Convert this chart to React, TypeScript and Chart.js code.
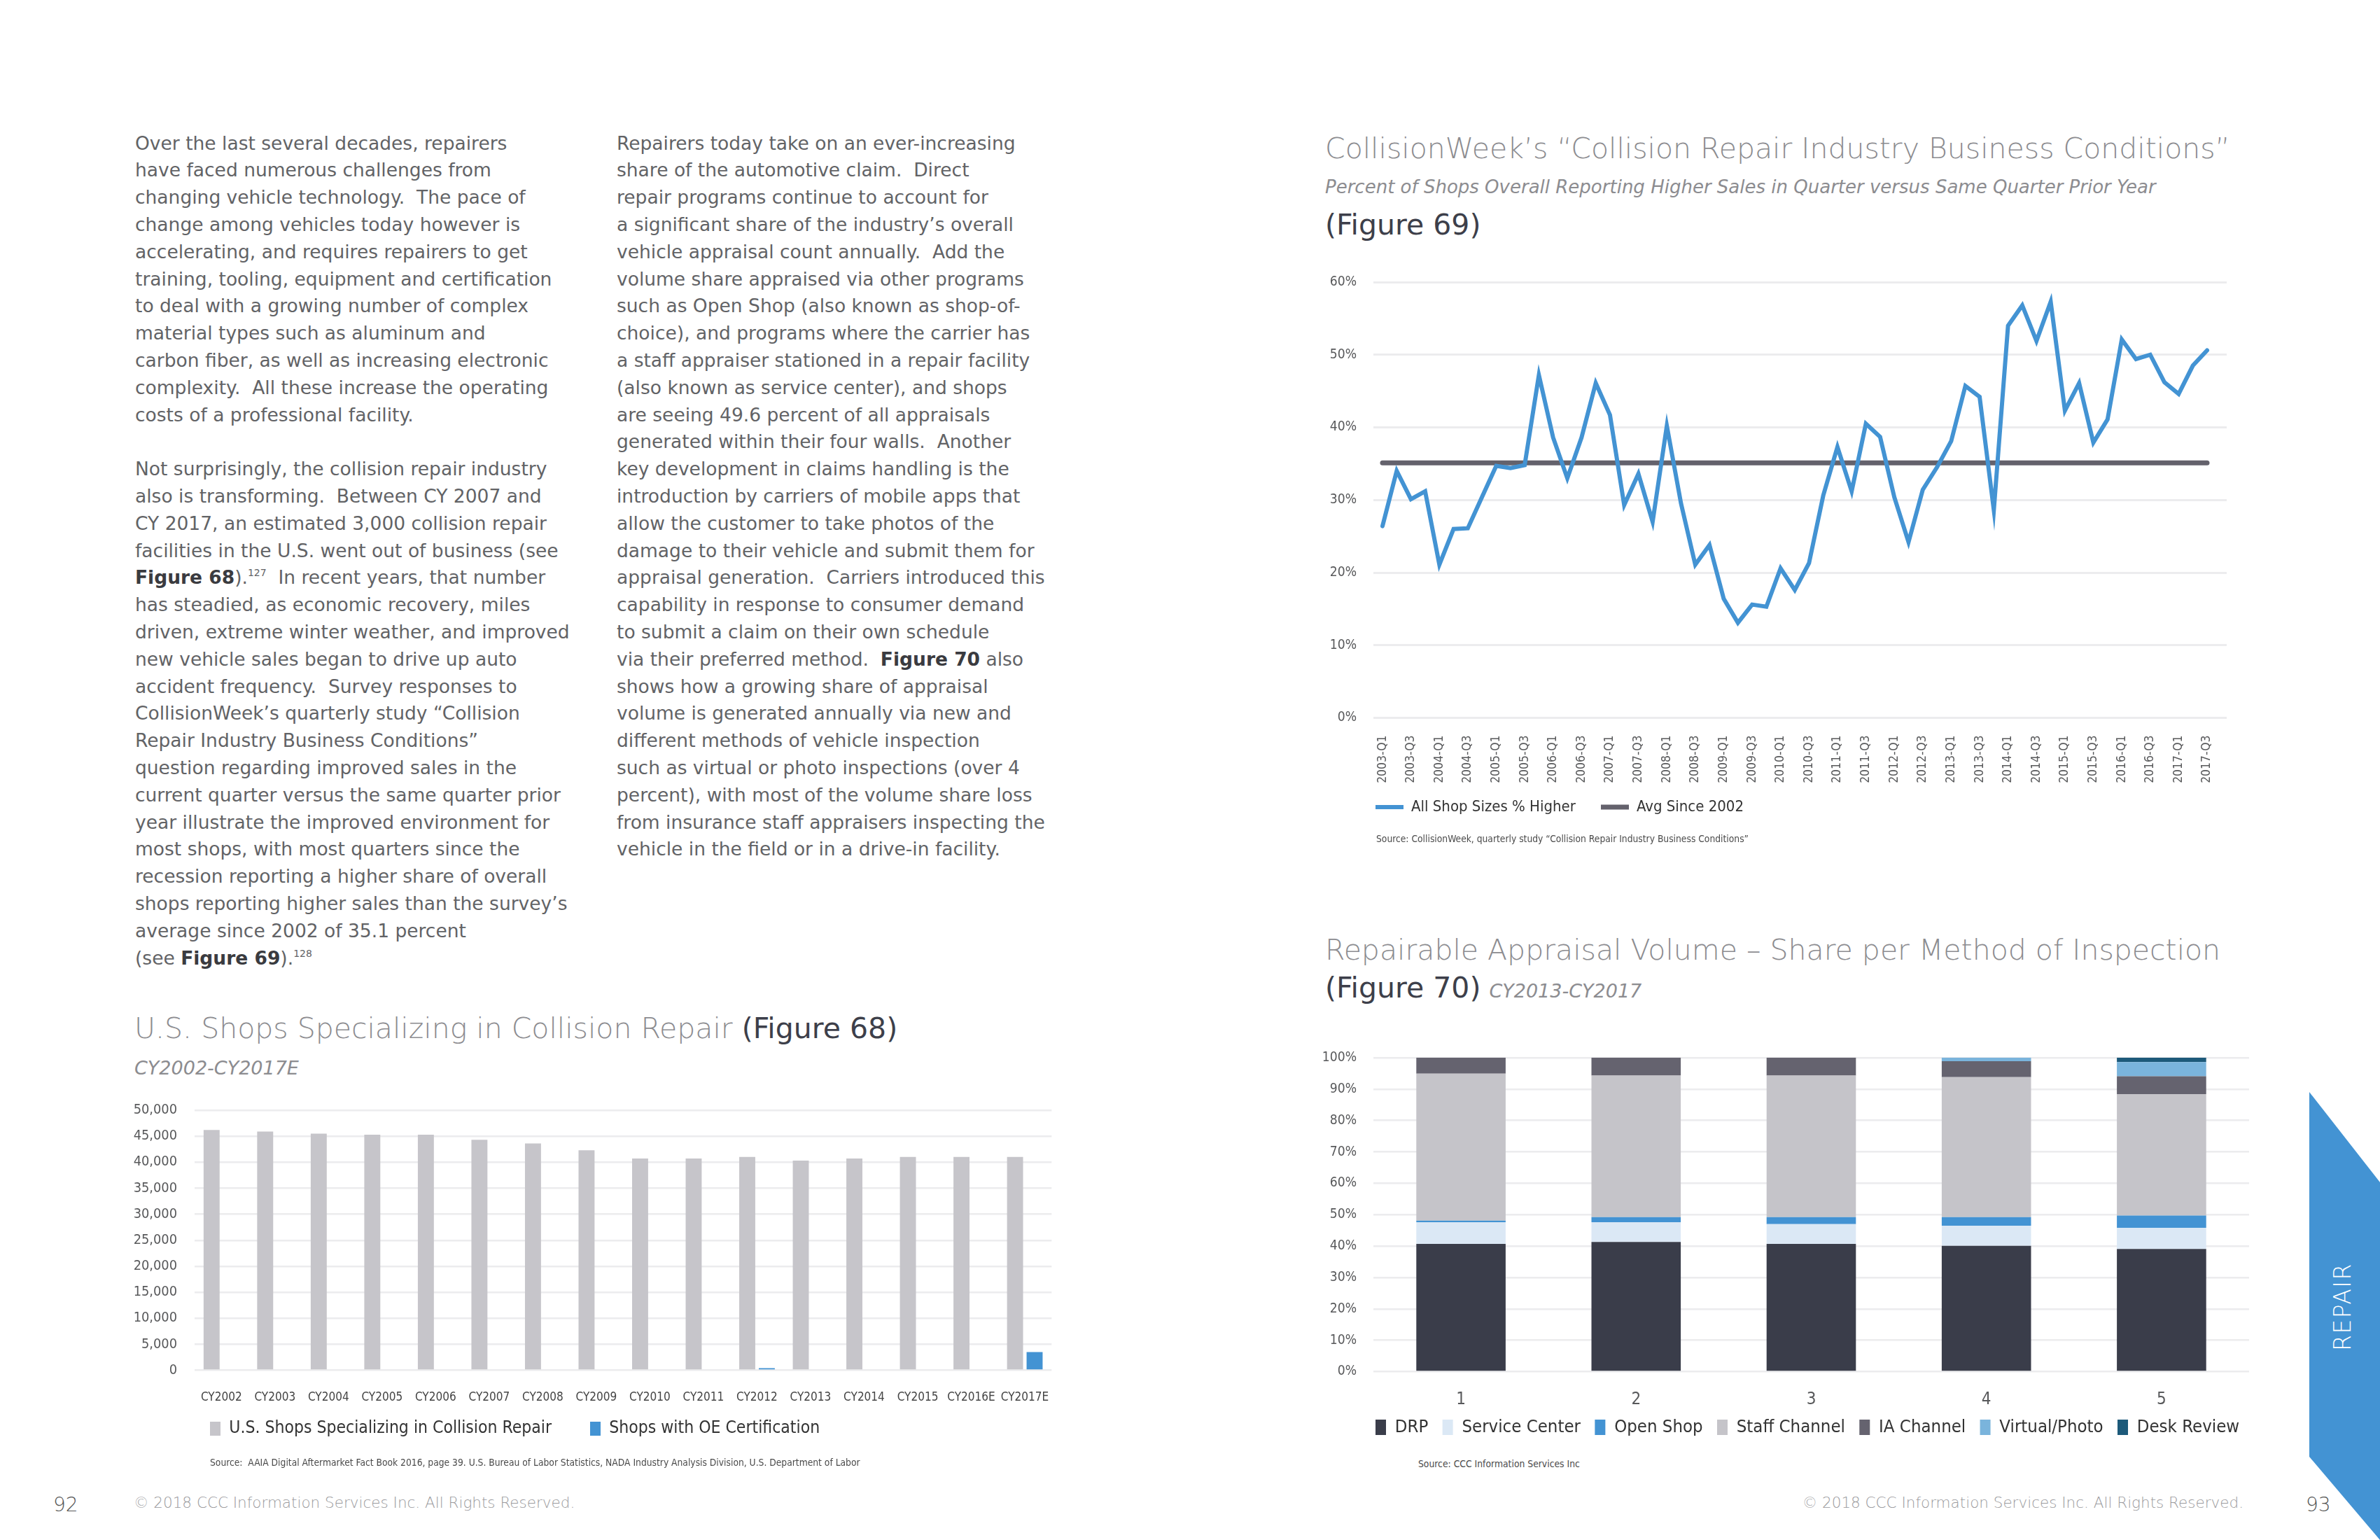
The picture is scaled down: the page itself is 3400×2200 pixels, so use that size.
import React, { useEffect, useRef } from 'react';
import { Chart, registerables } from 'chart.js';

Chart.register(...registerables);

const NARROW = "'Noto Sans ExtraCondensed', 'Noto Sans Condensed', 'Liberation Sans Narrow', 'DejaVu Sans Condensed', sans-serif";
const SANS = "'DejaVu Sans', 'Noto Sans', sans-serif";

// ---------- Figure 68 ----------
const FIG68_YEARS = ['CY2002', 'CY2003', 'CY2004', 'CY2005', 'CY2006', 'CY2007', 'CY2008', 'CY2009', 'CY2010', 'CY2011', 'CY2012', 'CY2013', 'CY2014', 'CY2015', 'CY2016E', 'CY2017E'];
const FIG68_SHOPS = [46200, 45900, 45500, 45300, 45300, 44300, 43600, 42300, 40700, 40700, 41000, 40300, 40700, 41000, 41000, 41000];
const FIG68_OE_CERT = [null, null, null, null, null, null, null, null, null, null, 400, null, null, null, null, 3500];

// ---------- Figure 69 ----------
const FIG69_QUARTERS = [
  '2003-Q1', '2003-Q2', '2003-Q3', '2003-Q4', '2004-Q1', '2004-Q2', '2004-Q3', '2004-Q4',
  '2005-Q1', '2005-Q2', '2005-Q3', '2005-Q4', '2006-Q1', '2006-Q2', '2006-Q3', '2006-Q4',
  '2007-Q1', '2007-Q2', '2007-Q3', '2007-Q4', '2008-Q1', '2008-Q2', '2008-Q3', '2008-Q4',
  '2009-Q1', '2009-Q2', '2009-Q3', '2009-Q4', '2010-Q1', '2010-Q2', '2010-Q3', '2010-Q4',
  '2011-Q1', '2011-Q2', '2011-Q3', '2011-Q4', '2012-Q1', '2012-Q2', '2012-Q3', '2012-Q4',
  '2013-Q1', '2013-Q2', '2013-Q3', '2013-Q4', '2014-Q1', '2014-Q2', '2014-Q3', '2014-Q4',
  '2015-Q1', '2015-Q2', '2015-Q3', '2015-Q4', '2016-Q1', '2016-Q2', '2016-Q3', '2016-Q4',
  '2017-Q1', '2017-Q2', '2017-Q3',
];
const FIG69_HIGHER = [
  26.4, 34.0, 30.1, 31.2, 21.1, 26.0, 26.1, 30.4, 34.7, 34.4,
  34.8, 47.2, 38.6, 33.0, 38.6, 46.1, 41.7, 29.3, 33.6, 27.0,
  40.2, 29.5, 21.1, 23.8, 16.4, 13.1, 15.6, 15.3, 20.6, 17.6,
  21.3, 30.6, 37.3, 31.2, 40.5, 38.7, 30.4, 24.2, 31.4, 34.5,
  38.1, 45.7, 44.2, 28.6, 54.0, 56.8, 51.9, 57.3, 42.3, 46.1,
  37.9, 41.1, 52.1, 49.4, 50.0, 46.2, 44.6, 48.5, 50.6,
];
const FIG69_AVG_SINCE_2002 = 35.1;

// ---------- Figure 70 ----------
const FIG70_PERIODS = ['1', '2', '3', '4', '5'];
const FIG70_DRP = [40.7, 41.3, 40.7, 40.1, 39.1];
const FIG70_SERVICE_CENTER = [6.9, 6.3, 6.3, 6.4, 6.7];
const FIG70_OPEN_SHOP = [0.5, 1.6, 2.2, 2.7, 3.9];
const FIG70_STAFF = [46.8, 45.1, 45.1, 44.6, 38.7];
const FIG70_IA = [5.1, 5.7, 5.7, 5.1, 5.7];
const FIG70_VIRTUAL = [0, 0, 0, 1.1, 4.5];
const FIG70_DESK = [0, 0, 0, 0, 1.4];

const BLUE = '#4393d3';
const GRID = '#ececee';
const TICK = '#58595b';

// ---------- text measuring (to fit the condensed font actually available) ----------
let measureCtx: CanvasRenderingContext2D | null = null;
function textW(text: string, size: number, family = NARROW) {
  if (!measureCtx) measureCtx = (document.createElement('canvas').getContext('2d') as CanvasRenderingContext2D);
  measureCtx.font = `normal 400 ${size}px ${family}`;
  return measureCtx.measureText(text).width;
}
function fit(text: string, target: number, max: number, family = NARROW) {
  return Math.min(max, (target * 100) / textW(text, 100, family));
}

// place the legend row at an exact spot inside the canvas
function placeLegend(x: number, itemTop: number) {
  return {
    id: 'placeLegend',
    afterLayout(chart: any) {
      const l = chart.legend;
      if (!l) return;
      const pad = chart.options.plugins.legend.labels.padding;
      l.left = x - pad;
      l.right = chart.width + 800;
      l.top = itemTop - pad;
      l.bottom = chart.height;
      l.width = l.right - l.left;
      l.height = l.bottom - l.top;
    },
  };
}

const TOP_PAD = 44;

function makeFig68(canvas: HTMLCanvasElement) {
  const yFs = fit('50,000', 52 * 1.2, 27);
  const xFs = fit('CY2002', 56 * 1.05, 25);
  const l1 = 'U.S. Shops Specializing in Collision Repair';
  const lFs = fit(l1, 461, 33);
  const pad = 543 - 15 - lFs / 2 - textW(l1, lFs);
  const itemH = Math.max(lFs, 20);
  return new Chart(canvas, {
    type: 'bar',
    data: {
      labels: FIG68_YEARS,
      datasets: [
        { label: l1, data: FIG68_SHOPS, backgroundColor: '#c6c5ca', borderWidth: 0, barPercentage: 0.82, categoryPercentage: 0.73 },
        { label: 'Shops with OE Certification', data: FIG68_OE_CERT as any, backgroundColor: BLUE, borderWidth: 0, barPercentage: 0.82, categoryPercentage: 0.73 },
      ],
    },
    options: {
      responsive: false,
      animation: false,
      events: [],
      layout: { padding: { top: TOP_PAD, right: 15, left: 0, bottom: 0 } },
      scales: {
        x: {
          grid: { display: false },
          border: { display: false },
          ticks: { font: { family: NARROW, size: xFs }, color: '#444', padding: 31.5 - 0.6 * xFs, maxRotation: 0, autoSkip: false },
          afterFit: (s: any) => { s.height = 123.5; },
        },
        y: {
          min: 0,
          max: 50000,
          ticks: { stepSize: 5000, padding: 25, font: { family: NARROW, size: yFs }, color: TICK, callback: (v: any) => Number(v).toLocaleString('en-US') },
          grid: { color: GRID, lineWidth: 2.5, drawTicks: false },
          border: { display: false },
          afterFit: (s: any) => { s.width = 98; },
        },
      },
      plugins: {
        legend: {
          position: 'bottom',
          align: 'start',
          maxHeight: 1,
          labels: { boxWidth: 15, boxHeight: 20, padding: pad, font: { family: NARROW, size: lFs }, color: '#333' },
        },
        tooltip: { enabled: false },
      },
    } as any,
    plugins: [placeLegend(120, 499 - itemH / 2)],
  });
}

function makeFig69(canvas: HTMLCanvasElement) {
  const yFs = Math.min(fit('60%', 36 * 1.2, 27), fit('100%', 41 * 1.2, 27));
  const xFs = fit('2003-Q1', 57 * 1.2, 22);
  const l1 = 'All Shop Sizes % Higher';
  const lFs = fit(l1, 235, 33);
  const pad = 322 - 40 - lFs / 2 - textW(l1, lFs);
  const pts = FIG69_HIGHER.map((v, i) => ({ x: i, y: v }));
  const last = FIG69_QUARTERS.length - 1;
  const avg = [{ x: 0, y: FIG69_AVG_SINCE_2002 }, { x: last, y: FIG69_AVG_SINCE_2002 }];
  return new Chart(canvas, {
    type: 'line',
    data: {
      datasets: [
        { label: l1, data: pts, borderColor: BLUE, backgroundColor: BLUE, borderWidth: 6, pointRadius: 0, tension: 0, borderCapStyle: 'round', borderJoinStyle: 'miter' },
        { label: 'Avg Since 2002', data: avg, borderColor: '#64626c', backgroundColor: '#64626c', borderWidth: 7, pointRadius: 0, borderCapStyle: 'round' },
      ],
    },
    options: {
      responsive: false,
      animation: false,
      events: [],
      layout: { padding: { top: TOP_PAD, right: 29, left: 0, bottom: 0 } },
      scales: {
        x: {
          type: 'linear',
          min: -0.64,
          max: 59.38,
          afterBuildTicks: (s: any) => {
            s.ticks = FIG69_QUARTERS.map((_, i) => ({ value: i })).filter((t) => t.value % 2 === 0);
          },
          ticks: { callback: (v: any) => FIG69_QUARTERS[v], minRotation: 90, maxRotation: 90, autoSkip: false, padding: 17, font: { family: NARROW, size: xFs }, color: TICK },
          grid: { display: false },
          border: { display: false },
          afterFit: (s: any) => { s.height = 172.5; },
        },
        y: {
          min: 0,
          max: 60,
          ticks: { stepSize: 10, padding: 24, font: { family: NARROW, size: yFs }, color: TICK, callback: (v: any) => v + '%' },
          grid: { color: GRID, lineWidth: 3, drawTicks: false },
          border: { display: false },
          afterFit: (s: any) => { s.width = 82; },
        },
      },
      plugins: {
        legend: {
          position: 'bottom',
          align: 'start',
          maxHeight: 1,
          labels: { usePointStyle: true, pointStyle: 'line', pointStyleWidth: 40, padding: pad, font: { family: NARROW, size: lFs }, color: '#333' },
        },
        tooltip: { enabled: false },
      },
    } as any,
    plugins: [placeLegend(85, 794 - lFs / 2)],
  });
}

function makeFig70(canvas: HTMLCanvasElement) {
  const yFs = Math.min(fit('60%', 36 * 1.2, 27), fit('100%', 41 * 1.2, 27));
  const names = ['DRP', 'Service Center', 'Open Shop', 'Staff Channel', 'IA Channel', 'Virtual/Photo', 'Desk Review'];
  const sum100 = names.reduce((a, n) => a + textW(n, 100), 0);
  const lFs = Math.min(33, (918 * 100) / sum100);
  const first6 = names.slice(0, 6).reduce((a, n) => a + 15 + lFs / 2 + textW(n, lFs), 0);
  const pad = (1060 - first6) / 6;
  const itemH = Math.max(lFs, 22);
  const ds = (label: string, data: number[], color: string) => ({ label, data, backgroundColor: color, borderWidth: 0, barPercentage: 0.51, categoryPercentage: 1.0 });
  const xFs = 24;
  return new Chart(canvas, {
    type: 'bar',
    data: {
      labels: FIG70_PERIODS,
      datasets: [
        ds(names[0], FIG70_DRP, '#3a3d4a'),
        ds(names[1], FIG70_SERVICE_CENTER, '#dbe8f5'),
        ds(names[2], FIG70_OPEN_SHOP, '#4393d3'),
        ds(names[3], FIG70_STAFF, '#c5c4c9'),
        ds(names[4], FIG70_IA, '#65636f'),
        ds(names[5], FIG70_VIRTUAL, '#7ab4dc'),
        ds(names[6], FIG70_DESK, '#1d5a7a'),
      ],
    },
    options: {
      responsive: false,
      animation: false,
      events: [],
      layout: { padding: { top: TOP_PAD, right: 7, left: 0, bottom: 0 } },
      scales: {
        x: {
          stacked: true,
          grid: { display: false },
          border: { display: false },
          ticks: { font: { family: NARROW, size: xFs }, color: TICK, padding: 32.5 - 0.6 * xFs, maxRotation: 0 },
          afterFit: (s: any) => { s.height = 116.5; },
        },
        y: {
          stacked: true,
          min: 0,
          max: 100,
          ticks: { stepSize: 10, padding: 24, font: { family: NARROW, size: yFs }, color: TICK, callback: (v: any) => v + '%' },
          grid: { color: GRID, lineWidth: 2.5, drawTicks: false },
          border: { display: false },
          afterFit: (s: any) => { s.width = 82; },
        },
      },
      plugins: {
        legend: {
          position: 'bottom',
          align: 'start',
          maxHeight: 1,
          labels: { boxWidth: 15, boxHeight: 22, padding: pad, font: { family: NARROW, size: lFs }, color: '#333' },
        },
        tooltip: { enabled: false },
      },
    } as any,
    plugins: [placeLegend(85, 572 - itemH / 2)],
  });
}

function ChartBox({ left, top, width, height, make }: { left: number; top: number; width: number; height: number; make: (c: HTMLCanvasElement) => Chart }) {
  const ref = useRef<HTMLCanvasElement>(null);
  useEffect(() => {
    const chart = make(ref.current as HTMLCanvasElement);
    return () => chart.destroy();
  }, []);
  return <canvas ref={ref} width={width} height={height} style={{ position: 'absolute', left, top, width, height }} />;
}

// ---------- body text ----------
const COL1 = [
  'Over the last several decades, repairers',
  'have faced numerous challenges from',
  'changing vehicle technology.  The pace of',
  'change among vehicles today however is',
  'accelerating, and requires repairers to get',
  'training, tooling, equipment and certification',
  'to deal with a growing number of complex',
  'material types such as aluminum and',
  'carbon fiber, as well as increasing electronic',
  'complexity.  All these increase the operating',
  'costs of a professional facility.',
  '',
  'Not surprisingly, the collision repair industry',
  'also is transforming.  Between CY 2007 and',
  'CY 2017, an estimated 3,000 collision repair',
  'facilities in the U.S. went out of business (see',
  '**Figure 68**).^127^  In recent years, that number',
  'has steadied, as economic recovery, miles',
  'driven, extreme winter weather, and improved',
  'new vehicle sales began to drive up auto',
  'accident frequency.  Survey responses to',
  'CollisionWeek\u2019s quarterly study \u201cCollision',
  'Repair Industry Business Conditions\u201d',
  'question regarding improved sales in the',
  'current quarter versus the same quarter prior',
  'year illustrate the improved environment for',
  'most shops, with most quarters since the',
  'recession reporting a higher share of overall',
  'shops reporting higher sales than the survey\u2019s',
  'average since 2002 of 35.1 percent',
  '(see **Figure 69**).^128^',
];

const COL2 = [
  'Repairers today take on an ever-increasing',
  'share of the automotive claim.  Direct',
  'repair programs continue to account for',
  'a significant share of the industry\u2019s overall',
  'vehicle appraisal count annually.  Add the',
  'volume share appraised via other programs',
  'such as Open Shop (also known as shop-of-',
  'choice), and programs where the carrier has',
  'a staff appraiser stationed in a repair facility',
  '(also known as service center), and shops',
  'are seeing 49.6 percent of all appraisals',
  'generated within their four walls.  Another',
  'key development in claims handling is the',
  'introduction by carriers of mobile apps that',
  'allow the customer to take photos of the',
  'damage to their vehicle and submit them for',
  'appraisal generation.  Carriers introduced this',
  'capability in response to consumer demand',
  'to submit a claim on their own schedule',
  'via their preferred method.  **Figure 70** also',
  'shows how a growing share of appraisal',
  'volume is generated annually via new and',
  'different methods of vehicle inspection',
  'such as virtual or photo inspections (over 4',
  'percent), with most of the volume share loss',
  'from insurance staff appraisers inspecting the',
  'vehicle in the field or in a drive-in facility.',
];

function renderLine(s: string) {
  const parts = s.split(/(\*\*[^*]+\*\*|\^[^^]+\^)/);
  return parts.map((p, i) => {
    if (p.startsWith('**')) return <b key={i} style={{ fontWeight: 700, color: '#3a3b40' }}>{p.slice(2, -2)}</b>;
    if (p.startsWith('^')) return <span key={i} style={{ fontSize: 14, position: 'relative', top: -11, lineHeight: 0 }}>{p.slice(1, -1)}</span>;
    return <React.Fragment key={i}>{p}</React.Fragment>;
  });
}

function Column({ left, lines }: { left: number; lines: string[] }) {
  return (
    <div style={{ position: 'absolute', left, top: 185.7, fontFamily: SANS, fontSize: 26.5, lineHeight: '38.8px', color: '#626366' }}>
      {lines.map((l, i) => (
        <div key={i} style={{ whiteSpace: 'pre', height: 38.8 }}>{renderLine(l)}</div>
      ))}
    </div>
  );
}

function Txt({ x, cy, size, color, children, family = SANS, weight = 400, italic = false, ls = 0, right }: any) {
  const style: any = {
    position: 'absolute',
    top: cy - size * 0.52,
    fontFamily: family,
    fontSize: size,
    lineHeight: size + 'px',
    fontWeight: weight,
    fontStyle: italic ? 'italic' : 'normal',
    letterSpacing: ls,
    color,
    whiteSpace: 'pre',
  };
  if (right !== undefined) style.right = right; else style.left = x;
  return <div style={style}>{children}</div>;
}

const LIGHT = '#8c8c90';
const DARK = '#3d3f4a';

const SRC68 = 'Source:  AAIA Digital Aftermarket Fact Book 2016, page 39. U.S. Bureau of Labor Statistics, NADA Industry Analysis Division, U.S. Department of Labor';
const SRC69 = 'Source: CollisionWeek, quarterly study \u201cCollision Repair Industry Business Conditions\u201d';
const SRC70 = 'Source: CCC Information Services Inc';
const COPY = '\u00a9 2018 CCC Information Services Inc. All Rights Reserved.';

export default function App() {
  const s68 = fit(SRC68, 929, 22);
  const s69 = fit(SRC69, 532, 22);
  const s70 = fit(SRC70, 231, 22);
  return (
    <div style={{ position: 'absolute', left: 0, top: 0, width: 3400, height: 2200, background: '#ffffff', overflow: 'hidden' }}>
      <Column left={193} lines={COL1} />
      <Column left={881} lines={COL2} />

      {/* Figure 68 */}
      <Txt x={192} cy={1470} size={41} color={LIGHT} weight={200}>
        U.S. Shops Specializing in Collision Repair<span style={{ color: DARK, fontWeight: 400 }}> (Figure 68)</span>
      </Txt>
      <Txt x={192} cy={1526} size={27} color={LIGHT} weight={200} italic>CY2002-CY2017E</Txt>
      <ChartBox left={180} top={1586 - TOP_PAD} width={1340} height={540} make={makeFig68} />
      <Txt x={300} cy={2090} size={s68} color="#4a4a4a" family={NARROW}>{SRC68}</Txt>

      {/* Figure 69 */}
      <Txt x={1893} cy={213} size={41} color={LIGHT} weight={200}>
        CollisionWeek{'\u2019'}s {'\u201c'}Collision Repair Industry Business Conditions{'\u201d'}
      </Txt>
      <Txt x={1893} cy={268} size={26} color={LIGHT} weight={200} italic>
        Percent of Shops Overall Reporting Higher Sales in Quarter versus Same Quarter Prior Year
      </Txt>
      <Txt x={1893} cy={322} size={41} color={DARK}>(Figure 69)</Txt>
      <ChartBox left={1880} top={403 - TOP_PAD} width={1330} height={840} make={makeFig69} />
      <Txt x={1966} cy={1199} size={s69} color="#4a4a4a" family={NARROW}>{SRC69}</Txt>

      {/* Figure 70 */}
      <Txt x={1893} cy={1358} size={41} color={LIGHT} weight={200}>
        Repairable Appraisal Volume {'\u2013'} Share per Method of Inspection
      </Txt>
      <Txt x={1893} cy={1412} size={41} color={DARK}>
        (Figure 70)<span style={{ fontSize: 27, fontStyle: 'italic', fontWeight: 200, color: LIGHT, marginLeft: 12 }}>CY2013-CY2017</span>
      </Txt>
      <ChartBox left={1880} top={1511 - TOP_PAD} width={1340} height={610} make={makeFig70} />
      <Txt x={2026} cy={2092} size={s70} color="#4a4a4a" family={NARROW}>{SRC70}</Txt>

      {/* footer */}
      <Txt x={191} cy={2147} size={21.5} color="#9a9a9d" weight={200}>{COPY}</Txt>
      <Txt right={3400 - 3205} cy={2147} size={21.5} color="#9a9a9d" weight={200}>{COPY}</Txt>
      <Txt x={76} cy={2151} size={28} color="#555" weight={200}>92</Txt>
      <Txt x={3294} cy={2151} size={28} color="#555" weight={200}>93</Txt>

      {/* side tab */}
      <div style={{ position: 'absolute', left: 3299, top: 1560, width: 101, height: 640, background: BLUE, clipPath: 'polygon(0 0, 100% 129px, 100% 640px, 0 521px)' }} />
      <div style={{ position: 'absolute', left: 3346, top: 1867, transform: 'translate(-50%, -50%) rotate(-90deg)', color: '#ffffff', fontFamily: SANS, fontWeight: 200, fontSize: 33, letterSpacing: 1.5, whiteSpace: 'nowrap', lineHeight: '33px' }}>
        REPAIR
      </div>
    </div>
  );
}
